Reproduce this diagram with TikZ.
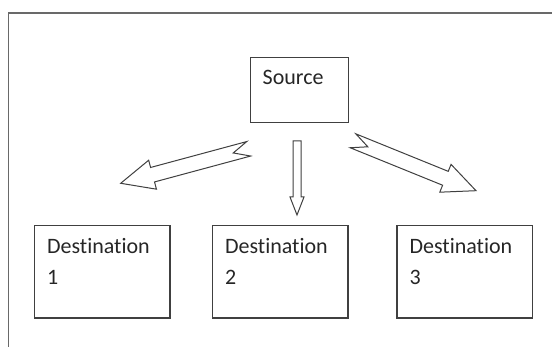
\documentclass[tikz,border=0pt]{standalone}
\usepackage{fontspec}
\setmainfont{Carlito}[Ligatures=NoCommon]
\usepackage{xcolor}
\usepackage{tikz}
\usetikzlibrary{calc,positioning}
\definecolor{BoxGray}{RGB}{64,64,64}
\definecolor{FrameGray}{RGB}{105,105,105}

% block arrow from #1 (tail) to #2 (tip): shaft half width, head half width, head length, notch depth
\newcommand{\notcharrow}[6]{%
  \draw[blockarrow] ($(#1)!#3!90:(#2)$) -- ($(#2)!#5!(#1)!#3!-90:(#1)$)
    -- ($(#2)!#5!(#1)!#4!-90:(#1)$) -- (#2) -- ($(#2)!#5!(#1)!#4!90:(#1)$)
    -- ($(#2)!#5!(#1)!#3!90:(#1)$) -- ($(#1)!#3!-90:(#2)$) -- ($(#1)!#6!(#2)$) -- cycle;}

\begin{document}
\begin{tikzpicture}[x=0.5pt, y=0.5pt, font=\fontsize{11}{15.4}\selectfont,
  box/.style={draw=BoxGray, line width=0.6pt, inner sep=0pt,
              minimum width=67.75pt, minimum height=46.25pt},
  srcbox/.style={box, minimum width=48.8pt, minimum height=32.7pt},
  txt/.style={anchor=base west, inner sep=0pt, align=left, text=black!85},
  blockarrow/.style={draw=BoxGray, line width=0.5pt, line join=miter, fill=white}]
  \useasboundingbox (0,0) rectangle (552,347);
  \draw[FrameGray, line width=0.7pt] (8.5,0) -- (8.5,334) -- (552,334);

  \node[srcbox] (src) at (299.5,257) {};
  \node[box] (dst1) at (102.2,75.3) {};
  \node[box] (dst2) at (280.2,75.3) {};
  \node[box] (dst3) at (464.7,75.3) {};

  % base anchor sits on the last line
  \node[txt] (srctxt) at ([shift={(6.1pt,-13.85pt)}]src.north west) {Source};
  \node[txt] (dst1txt) at ([shift={(6.4pt,-29.8pt)}]dst1.north west) {Destination\\1};
  \node[txt] (dst2txt) at ([shift={(6.4pt,-29.8pt)}]dst2.north west) {Destination\\2};
  \node[txt] (dst3txt) at ([shift={(6.4pt,-29.8pt)}]dst3.north west) {Destination\\3};

  \coordinate (l0) at (248.7,198.2);
  \coordinate (l1) at (120.7,163.7);
  \coordinate (m0) at (297,206);
  \coordinate (m1) at (297,132);
  \coordinate (r0) at (353,206.2);
  \coordinate (r1) at (476,156.3);

  \notcharrow{l0}{l1}{3.75pt}{7.5pt}{16.5pt}{8pt}
  \notcharrow{m0}{m1}{2pt}{3.5pt}{9pt}{0pt}
  \notcharrow{r0}{r1}{3.75pt}{7.5pt}{16.5pt}{8pt}
\end{tikzpicture}
\end{document}
